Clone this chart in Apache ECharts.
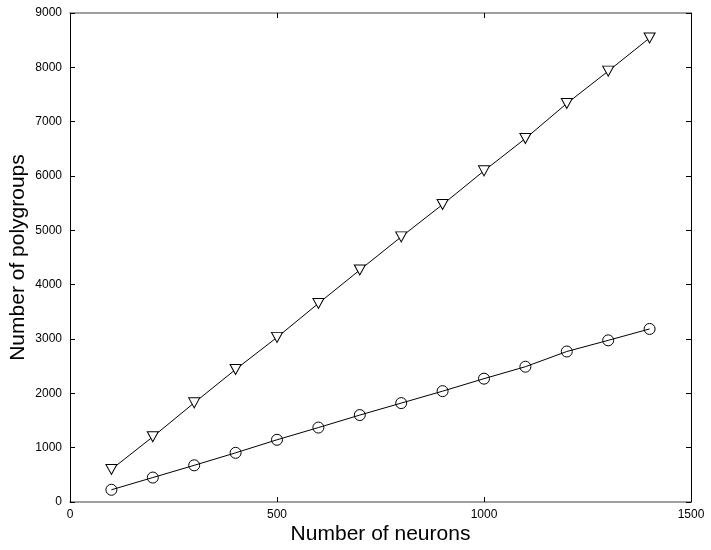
<!DOCTYPE html>
<html><head><meta charset="utf-8">
<script src="https://cdn.jsdelivr.net/npm/echarts@6/dist/echarts.min.js"></script>
<style>html,body{margin:0;padding:0;background:#fff}#c{width:711px;height:550px}</style>
</head><body><div id="c"></div>
<script>
var neurons = [100,200,300,400,500,600,700,800,900,1000,1100,1200,1300,1400];
var triangleSeries = [600,1200,1825,2440,3030,3655,4270,4880,5475,6095,6690,7335,7930,8540];
var circleSeries = [225,450,675,905,1145,1370,1600,1820,2040,2270,2490,2770,2975,3185];
var xTitle = 'Number of neurons';
var yTitle = 'Number of polygroups';

var font = '"Liberation Sans", Arial, sans-serif';
var chart = echarts.init(document.getElementById('c'));
var hLine = {show:true, onZero:false, lineStyle:{color:'#808080', width:1.5}};
var vLine = {show:true, onZero:false, lineStyle:{color:'#000', width:1}};
var tick = {show:true, inside:true, length:5, lineStyle:{color:'#000', width:1}};
var fmt = function(v){ return String(v); };
chart.setOption({
  animation:false,
  grid:{left:70, right:20, top:13, bottom:48, containLabel:false, outerBoundsMode:'none'},
  xAxis:[
    {type:'value', min:0, max:1500, interval:500, position:'bottom',
     name:xTitle, nameLocation:'middle', nameGap:22, nameMoveOverlap:false,
     nameTextStyle:{fontFamily:font, fontSize:21, color:'#000'},
     axisLine:hLine, axisTick:tick, splitLine:{show:false},
     axisLabel:{fontFamily:font, fontSize:12, color:'#000', margin:7, formatter:fmt}},
    {type:'value', min:0, max:1500, interval:500, position:'top',
     axisLine:hLine, axisTick:tick, splitLine:{show:false}, axisLabel:{show:false}}
  ],
  yAxis:[
    {type:'value', min:0, max:9000, interval:1000, position:'left',
     name:yTitle, nameLocation:'middle', nameGap:41, nameMoveOverlap:false,
     nameTextStyle:{fontFamily:font, fontSize:21, color:'#000'},
     axisLine:vLine, axisTick:tick, splitLine:{show:false},
     axisLabel:{fontFamily:font, fontSize:12, color:'#000', margin:8, formatter:fmt}},
    {type:'value', min:0, max:9000, interval:1000, position:'right',
     axisLine:vLine, axisTick:tick, splitLine:{show:false}, axisLabel:{show:false}}
  ],
  series:[
    {type:'line', data:neurons.map(function(x,i){return [x, triangleSeries[i]];}),
     symbol:'triangle', symbolSize:[11,10], symbolRotate:180, showAllSymbol:true,
     lineStyle:{color:'#000', width:1}, itemStyle:{color:'#fff', borderColor:'#000', borderWidth:1}},
    {type:'line', data:neurons.map(function(x,i){return [x, circleSeries[i]];}),
     symbol:'circle', symbolSize:11, showAllSymbol:true,
     lineStyle:{color:'#000', width:1}, itemStyle:{color:'rgba(0,0,0,0)', borderColor:'#000', borderWidth:1}},
    {type:'line', xAxisIndex:1, yAxisIndex:1, data:[[0,0]], symbol:'none', silent:true, lineStyle:{opacity:0}}
  ]
});
</script></body></html>
